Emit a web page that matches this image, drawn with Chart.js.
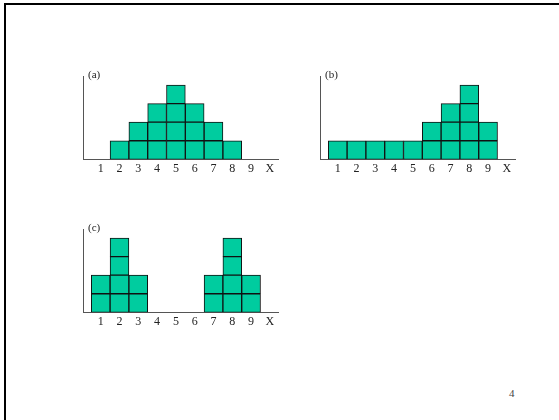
<!DOCTYPE html>
<html><head><meta charset="utf-8">
<script src="https://cdn.jsdelivr.net/npm/chart.js@4/dist/chart.umd.min.js"></script>
<style>
html,body{margin:0;padding:0;background:#fff;width:559px;height:420px;overflow:hidden;}
#frame{position:absolute;left:4px;top:3px;width:600px;height:500px;border-top:2px solid #000;border-left:2px solid #000;}
canvas{position:absolute;}
.tag{position:absolute;font:11px "Liberation Serif",serif;color:#222;line-height:11px;}
#page{position:absolute;left:509px;top:388px;font:11px "Liberation Serif",serif;color:#444;line-height:11px;}
</style></head><body>
<div id="frame"></div>
<canvas id="ca" width="200" height="106" style="left:80px;top:74px"></canvas>
<canvas id="cb" width="200" height="106" style="left:316.7px;top:74px"></canvas>
<canvas id="cc" width="200" height="106" style="left:80px;top:227.3px"></canvas>
<div class="tag" style="left:88px;top:68.5px">(a)</div>
<div class="tag" style="left:325px;top:68.5px">(b)</div>
<div class="tag" style="left:88px;top:222px">(c)</div>
<div id="page">4</div>
<script>
const categories = [1, 2, 3, 4, 5, 6, 7, 8, 9];
const tickValues = [1, 2, 3, 4, 5, 6, 7, 8, 9, 10];
const tickLabels = ['1', '2', '3', '4', '5', '6', '7', '8', '9', 'X'];
const valuesA = [0, 1, 2, 3, 4, 3, 2, 1, 0];
const valuesB = [1, 1, 1, 1, 1, 2, 3, 4, 2];
const valuesC = [2, 4, 2, 0, 0, 0, 2, 4, 2];

function layers(values) {
  const top = Math.max(...values);
  const sets = [];
  for (let k = 1; k <= top; k++) {
    sets.push({
      data: categories.filter((c, i) => values[i] >= k).map(c => ({x: c, y: [k - 1, k]})),
      backgroundColor: '#00CC9F',
      borderColor: '#111',
      borderWidth: 1,
      borderSkipped: false,
      grouped: false,
      categoryPercentage: 1,
      barPercentage: 1
    });
  }
  return sets;
}

function makeChart(id, values) {
  new Chart(document.getElementById(id), {
    type: 'bar',
    data: {datasets: layers(values)},
    options: {
      responsive: false,
      animation: false,
      events: [],
      layout: {padding: {left: 3.3, top: 2.7, right: 2, bottom: 0.7}},
      plugins: {legend: {display: false}, tooltip: {enabled: false}},
      scales: {
        x: {
          type: 'linear',
          offset: false,
          min: 0.075,
          max: 10.43,
          grid: {display: false, drawTicks: false, offset: false},
          border: {display: true, color: '#555', width: 1},
          afterBuildTicks: (axis) => { axis.ticks = tickValues.map(v => ({value: v})); },
          afterFit: (axis) => { axis.height = 20; },
          ticks: {
            autoSkip: false,
            maxRotation: 0,
            padding: 2,
            color: '#222',
            font: {family: '"Liberation Serif", serif', size: 12},
            callback: (v) => tickLabels[tickValues.indexOf(v)]
          }
        },
        y: {
          min: 0,
          max: 4.45,
          grid: {display: false, drawTicks: false},
          border: {display: true, color: '#555', width: 1},
          ticks: {display: false},
          afterFit: (axis) => { axis.width = 0; }
        }
      }
    }
  });
}

makeChart('ca', valuesA);
makeChart('cb', valuesB);
makeChart('cc', valuesC);
</script>
</body></html>
